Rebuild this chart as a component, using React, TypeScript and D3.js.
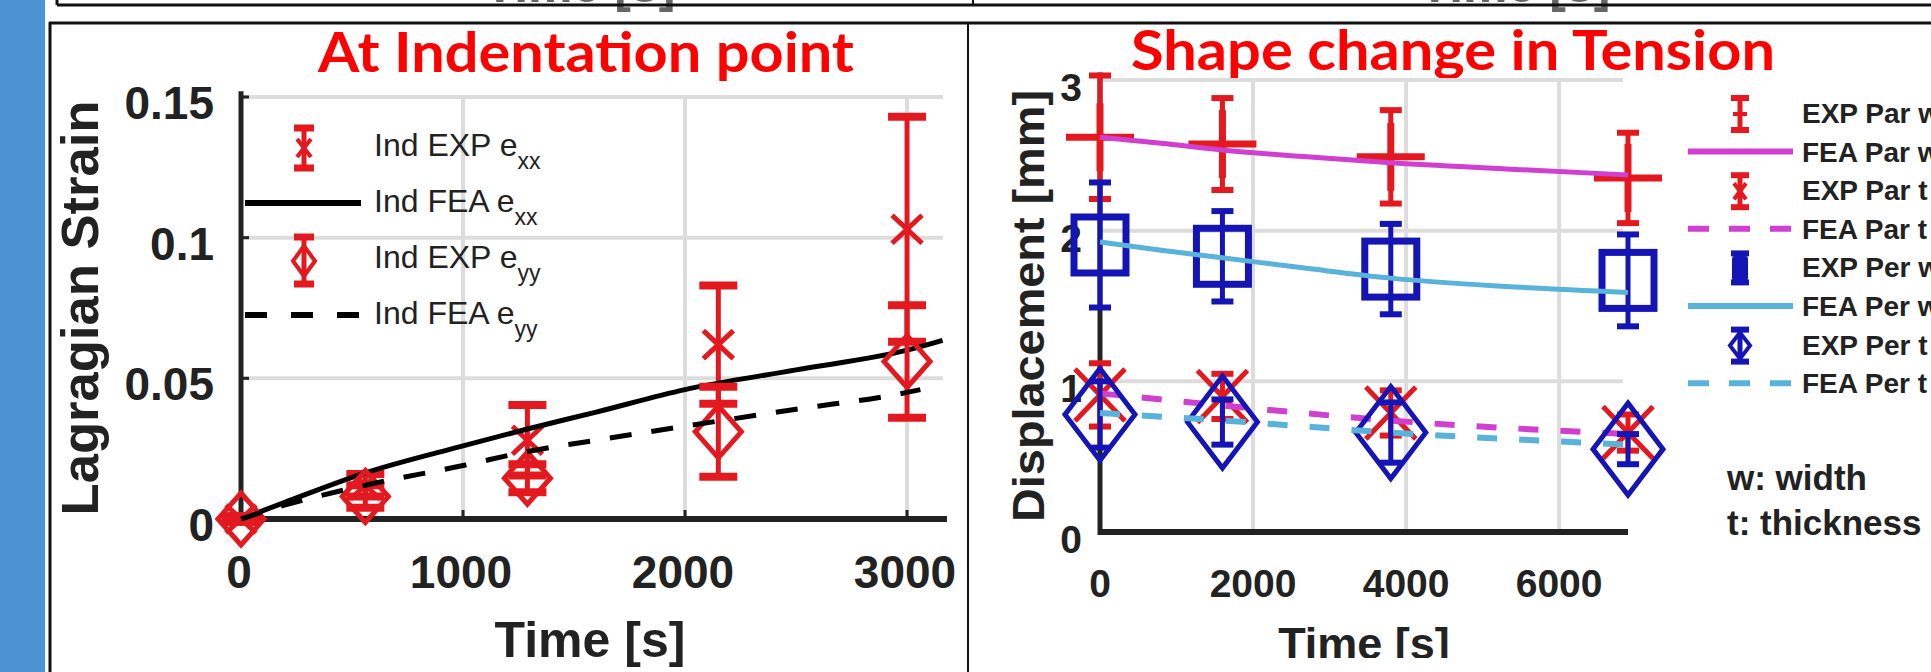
import React from 'react';
import * as d3 from 'd3';

// ---------- Left panel: "At Indentation point" ----------
const indTimes = [0, 560, 1290, 2150, 3000];
const indExpExx = [0, 0.012, 0.028, 0.062, 0.103];
const indExpExxErr = [0.001, 0.004, 0.0125, 0.021, 0.040];
const indExpEyy = [0, 0.008, 0.0145, 0.031, 0.056];
const indExpEyyErr = [0.001, 0.004, 0.005, 0.016, 0.020];
const indFeaExxTimes = [0, 200, 560, 1000, 1290, 1600, 2000, 2500, 3000, 3160];
const indFeaExx = [0, 0.006, 0.0164, 0.026, 0.032, 0.038, 0.046, 0.053, 0.060, 0.0635];
const indFeaEyyTimes = [0, 200, 560, 1000, 1290, 1600, 2000, 2500, 3000, 3060];
const indFeaEyy = [0, 0.005, 0.012, 0.019, 0.024, 0.028, 0.033, 0.039, 0.045, 0.046];
const indXTicks = [0, 1000, 2000, 3000];
const indYTicks = [0, 0.05, 0.1, 0.15];
const indYTickLabels = ['0', '0.05', '0.1', '0.15'];
const indLegend = ['Ind EXP e', 'Ind FEA e', 'Ind EXP e', 'Ind FEA e'];
const indLegendSub = ['xx', 'xx', 'yy', 'yy'];

// ---------- Right panel: "Shape change in Tension" ----------
const tenTimes = [0, 1600, 3800, 6900];
const expParW = [2.62, 2.575, 2.49, 2.35];
const expParWErr = [0.41, 0.305, 0.31, 0.30];
const feaTimes = [0, 800, 1600, 2700, 3800, 5300, 6900];
const feaParW = [2.62, 2.58, 2.535, 2.49, 2.45, 2.41, 2.37];
const expParT = [0.91, 0.90, 0.79, 0.66];
const expParTErr = [0.21, 0.15, 0.15, 0.12];
const feaParT = [0.92, 0.84, 0.74, 0.65];
const expPerW = [1.905, 1.83, 1.745, 1.67];
const expPerWErr = [0.415, 0.30, 0.30, 0.305];
const feaPerW = [1.925, 1.87, 1.82, 1.75, 1.685, 1.63, 1.59];
const expPerT = [0.78, 0.73, 0.66, 0.55];
const expPerTErr = [0.22, 0.15, 0.2, 0.1];
const feaPerT = [0.79, 0.74, 0.66, 0.58];
const tenXTicks = [0, 2000, 4000, 6000];
const tenYTicks = [0, 1, 2, 3];
const tenLegend = ['EXP Par w', 'FEA Par w', 'EXP Par t', 'FEA Par t', 'EXP Per w', 'FEA Per w', 'EXP Per t', 'FEA Per t'];

const RED = '#e3191f';
const TITLE_RED = '#ff0000';
const MAGENTA = '#d13fd1';
const BLUE = '#1515b5';
const LIGHTBLUE = '#58b2da';
const AXIS = '#222222';
const GRID = '#dcdcdc';
const FONT = '"Liberation Sans", Arial, Helvetica, sans-serif';

function ErrBar({ x, y0, y1, cap, color, w, capW }: any) {
  return (
    <g stroke={color} strokeWidth={w} fill="none">
      <line x1={x} x2={x} y1={y0} y2={y1} />
      <line x1={x - cap / 2} x2={x + cap / 2} y1={y0} y2={y0} strokeWidth={capW} />
      <line x1={x - cap / 2} x2={x + cap / 2} y1={y1} y2={y1} strokeWidth={capW} />
    </g>
  );
}

function XMark({ x, y, rx, ry, color, w }: any) {
  return (
    <g stroke={color} strokeWidth={w}>
      <line x1={x - rx} y1={y - ry} x2={x + rx} y2={y + ry} />
      <line x1={x - rx} y1={y + ry} x2={x + rx} y2={y - ry} />
    </g>
  );
}

function Diamond({ x, y, rx, ry, color, w }: any) {
  return (
    <path d={`M${x},${y - ry}L${x + rx},${y}L${x},${y + ry}L${x - rx},${y}Z`} fill="none" stroke={color} strokeWidth={w} />
  );
}

function Plus({ x, y, r, color, w }: any) {
  return (
    <g stroke={color} strokeWidth={w}>
      <line x1={x - r} x2={x + r} y1={y} y2={y} />
      <line x1={x} x2={x} y1={y - r} y2={y + r} />
    </g>
  );
}

function Square({ x, y, rx, ry, color, w }: any) {
  return <rect x={x - rx} y={y - ry} width={2 * rx} height={2 * ry} fill="none" stroke={color} strokeWidth={w} />;
}

function LeftPanel() {
  const x = d3.scaleLinear().domain([0, 3180]).range([241, 947]);
  const y = d3.scaleLinear().domain([0, 0.15]).range([519, 97]);
  const line = d3.line<[number, number]>().x((d) => x(d[0])).y((d) => y(d[1])).curve(d3.curveMonotoneX);
  const exxPts = indFeaExxTimes.map((t, i) => [t, indFeaExx[i]] as [number, number]);
  const eyyPts = indFeaEyyTimes.map((t, i) => [t, indFeaEyy[i]] as [number, number]);
  return (
    <g>
      {/* grid */}
      {indYTicks.slice(1).map((v) => (
        <line key={'gy' + v} x1={x(0)} x2={943} y1={y(v)} y2={y(v)} stroke={GRID} strokeWidth={4} />
      ))}
      {indXTicks.slice(1).map((v) => (
        <line key={'gx' + v} x1={x(v)} x2={x(v)} y1={y(0.15)} y2={y(0)} stroke={GRID} strokeWidth={4} />
      ))}
      {/* axes */}
      <line x1={x(0)} x2={x(0)} y1={y(0.152)} y2={y(0) + 3} stroke={AXIS} strokeWidth={5} />
      <line x1={x(0) - 2} x2={x(3180)} y1={y(0)} y2={y(0)} stroke={AXIS} strokeWidth={6} />
      {indXTicks.slice(1).map((v) => (
        <line key={'tx' + v} x1={x(v)} x2={x(v)} y1={y(0)} y2={y(0) - 9} stroke={AXIS} strokeWidth={3} />
      ))}
      {indYTicks.slice(1).map((v) => (
        <line key={'ty' + v} x1={x(0)} x2={x(0) + 8} y1={y(v)} y2={y(v)} stroke={AXIS} strokeWidth={3} />
      ))}
      {/* tick labels */}
      {indXTicks.map((v) => (
        <text key={'lx' + v} x={x(v) - 2} y={588} textAnchor="middle" fontFamily={FONT} fontWeight="bold" fontSize={46} fill="#222">
          {v}
        </text>
      ))}
      {indYTicks.map((v, i) => (
        <text key={'ly' + v} x={214} y={y(v) + 22} textAnchor="end" fontFamily={FONT} fontWeight="bold" fontSize={46} fill="#222">
          {indYTickLabels[i]}
        </text>
      ))}
      <text x={590} y={657} textAnchor="middle" fontFamily={FONT} fontWeight="bold" fontSize={50} fill="#222">
        Time [s]
      </text>
      <text transform="translate(98,308) rotate(-90)" textAnchor="middle" fontFamily={FONT} fontWeight="bold" fontSize={52} textLength={415} lengthAdjust="spacingAndGlyphs" fill="#222">
        Lagragian Strain
      </text>

      {/* EXP e_xx */}
      {indTimes.map((t, i) => (
        <g key={'exx' + i}>
          <ErrBar x={x(t)} y0={y(indExpExx[i] + indExpExxErr[i])} y1={y(indExpExx[i] - indExpExxErr[i])} cap={38} color={RED} w={5} capW={8} />
          <XMark x={x(t)} y={y(indExpExx[i])} rx={15} ry={14} color={RED} w={5} />
        </g>
      ))}
      {/* FEA e_xx */}
      <path d={line(exxPts) || ''} fill="none" stroke="#000" strokeWidth={5} />
      {/* EXP e_yy */}
      {indTimes.map((t, i) => (
        <g key={'eyy' + i}>
          <ErrBar x={x(t)} y0={y(indExpEyy[i] + indExpEyyErr[i])} y1={y(indExpEyy[i] - indExpEyyErr[i])} cap={38} color={RED} w={5} capW={8} />
          <Diamond x={x(t)} y={y(indExpEyy[i])} rx={23} ry={26} color={RED} w={5} />
        </g>
      ))}
      {/* FEA e_yy */}
      <path d={line(eyyPts) || ''} fill="none" stroke="#000" strokeWidth={5} strokeDasharray="22 20" />

      {/* legend */}
      {indLegend.map((s, i) => {
        const cy = 147 + i * 56;
        return (
          <g key={'leg' + i}>
            {i === 0 && (
              <g>
                <ErrBar x={304} y0={cy - 19} y1={cy + 21} cap={20} color={RED} w={5} capW={7} />
                <XMark x={304} y={cy + 1} rx={7} ry={9} color={RED} w={4} />
              </g>
            )}
            {i === 1 && <line x1={245} x2={361} y1={cy} y2={cy} stroke="#000" strokeWidth={6} />}
            {i === 2 && (
              <g>
                <ErrBar x={304} y0={cy - 22} y1={cy + 25} cap={20} color={RED} w={5} capW={7} />
                <Diamond x={304} y={cy + 2} rx={11} ry={15} color={RED} w={4} />
              </g>
            )}
            {i === 3 && <line x1={245} x2={361} y1={cy} y2={cy} stroke="#000" strokeWidth={6} strokeDasharray="22 24" />}
            <text x={374} y={cy + 9} fontFamily={FONT} fontSize={32} fill="#222">
              {s}
              <tspan dy={13} fontSize={23}>{indLegendSub[i]}</tspan>
            </text>
          </g>
        );
      })}
    </g>
  );
}

function RightPanel() {
  const x = d3.scaleLinear().domain([0, 6900]).range([1100, 1628]);
  const y = d3.scaleLinear().domain([0, 3]).range([532, 80]);
  const line = d3.line<[number, number]>().x((d) => x(d[0])).y((d) => y(d[1])).curve(d3.curveMonotoneX);
  const pts = (ts: number[], vs: number[]) => ts.map((t, i) => [t, vs[i]] as [number, number]);
  return (
    <g>
      <defs>
        <clipPath id="rclip">
          <rect x={969} y={0} width={962} height={658} />
        </clipPath>
      </defs>
      {tenYTicks.slice(1).map((v) => (
        <line key={'gy' + v} x1={x(0)} x2={1623} y1={y(v)} y2={y(v)} stroke={GRID} strokeWidth={4} />
      ))}
      {tenXTicks.slice(1).map((v) => (
        <line key={'gx' + v} x1={x(v)} x2={x(v)} y1={y(3)} y2={y(0)} stroke={GRID} strokeWidth={4} />
      ))}
      <line x1={x(0)} x2={x(0)} y1={y(3.05)} y2={y(0) + 3} stroke={AXIS} strokeWidth={5} />
      <line x1={x(0) - 2} x2={x(6900)} y1={y(0)} y2={y(0)} stroke={AXIS} strokeWidth={6} />
      {tenXTicks.map((v) => (
        <text key={'lx' + v} x={x(v)} y={597} textAnchor="middle" fontFamily={FONT} fontWeight="bold" fontSize={39} fill="#222">
          {v}
        </text>
      ))}
      {tenYTicks.map((v) => (
        <text key={'ly' + v} x={1082} y={y(v) + 21} textAnchor="end" fontFamily={FONT} fontWeight="bold" fontSize={39} fill="#222">
          {v}
        </text>
      ))}
      <text x={1364} y={659} textAnchor="middle" fontFamily={FONT} fontWeight="bold" fontSize={45} fill="#222" clipPath="url(#rclip)">
        Time [s]
      </text>
      <text transform="translate(1044,306) rotate(-90)" textAnchor="middle" fontFamily={FONT} fontWeight="bold" fontSize={44} textLength={432} lengthAdjust="spacingAndGlyphs" fill="#222">
        Displacement [mm]
      </text>

      {/* EXP Par w */}
      {tenTimes.map((t, i) => (
        <g key={'epw' + i}>
          <ErrBar x={x(t)} y0={y(expParW[i] + expParWErr[i])} y1={y(expParW[i] - expParWErr[i])} cap={22} color={RED} w={5} capW={6} />
          <Plus x={x(t)} y={y(expParW[i])} r={34} color={RED} w={7} />
        </g>
      ))}
      <path d={line(pts(feaTimes, feaParW)) || ''} fill="none" stroke={MAGENTA} strokeWidth={5} />
      {/* EXP Par t */}
      {tenTimes.map((t, i) => (
        <g key={'ept' + i}>
          <ErrBar x={x(t)} y0={y(expParT[i] + expParTErr[i])} y1={y(expParT[i] - expParTErr[i])} cap={22} color={RED} w={5} capW={6} />
          <XMark x={x(t)} y={y(expParT[i])} rx={25} ry={26} color={RED} w={5} />
        </g>
      ))}
      <path d={line(pts(tenTimes, feaParT)) || ''} fill="none" stroke={MAGENTA} strokeWidth={6} strokeDasharray="20 22" />
      {/* EXP Per w */}
      {tenTimes.map((t, i) => (
        <g key={'eqw' + i}>
          <ErrBar x={x(t)} y0={y(expPerW[i] + expPerWErr[i])} y1={y(expPerW[i] - expPerWErr[i])} cap={22} color={BLUE} w={5} capW={6} />
          <Square x={x(t)} y={y(expPerW[i])} rx={26} ry={28} color={BLUE} w={7} />
        </g>
      ))}
      <path d={line(pts(feaTimes, feaPerW)) || ''} fill="none" stroke={LIGHTBLUE} strokeWidth={5} />
      {/* EXP Per t */}
      {tenTimes.map((t, i) => (
        <g key={'eqt' + i}>
          <ErrBar x={x(t)} y0={y(expPerT[i] + expPerTErr[i])} y1={y(expPerT[i] - expPerTErr[i])} cap={22} color={BLUE} w={5} capW={6} />
          <Diamond x={x(t)} y={y(expPerT[i])} rx={35} ry={46} color={BLUE} w={5} />
        </g>
      ))}
      <path d={line(pts(tenTimes, feaPerT)) || ''} fill="none" stroke={LIGHTBLUE} strokeWidth={6} strokeDasharray="20 22" />

      {/* legend */}
      {tenLegend.map((s, i) => {
        const cy = 113 + i * 38.6;
        let icon = null;
        if (i === 0)
          icon = (
            <g>
              <ErrBar x={1740} y0={cy - 15} y1={cy + 17} cap={18} color={RED} w={5} capW={6} />
              <Plus x={1740} y={cy + 1} r={7} color={RED} w={4} />
            </g>
          );
        if (i === 2)
          icon = (
            <g>
              <ErrBar x={1740} y0={cy - 15} y1={cy + 17} cap={18} color={RED} w={5} capW={6} />
              <XMark x={1740} y={cy + 1} rx={6} ry={8} color={RED} w={4} />
            </g>
          );
        if (i === 4)
          icon = (
            <g>
              <ErrBar x={1740} y0={cy - 14} y1={cy + 15} cap={18} color={BLUE} w={5} capW={6} />
              <rect x={1732} y={cy - 12} width={16} height={26} rx={4} fill={BLUE} />
            </g>
          );
        if (i === 6)
          icon = (
            <g>
              <ErrBar x={1740} y0={cy - 15} y1={cy + 17} cap={18} color={BLUE} w={5} capW={6} />
              <Diamond x={1740} y={cy + 1} rx={10} ry={13} color={BLUE} w={4} />
            </g>
          );
        if (i === 1) icon = <line x1={1688} x2={1793} y1={cy} y2={cy} stroke={MAGENTA} strokeWidth={6} />;
        if (i === 3) icon = <line x1={1688} x2={1793} y1={cy} y2={cy} stroke={MAGENTA} strokeWidth={6} strokeDasharray="21 20" />;
        if (i === 5) icon = <line x1={1688} x2={1793} y1={cy} y2={cy} stroke={LIGHTBLUE} strokeWidth={6} />;
        if (i === 7) icon = <line x1={1688} x2={1793} y1={cy} y2={cy} stroke={LIGHTBLUE} strokeWidth={6} strokeDasharray="21 20" />;
        return (
          <g key={'rl' + i}>
            {icon}
            <text x={1802} y={cy + 10} fontFamily={FONT} fontWeight="bold" fontSize={28} fill="#222">
              {s}
            </text>
          </g>
        );
      })}
      <text x={1727} y={490} fontFamily={FONT} fontWeight="bold" fontSize={35} fill="#222">w: width</text>
      <text x={1727} y={535} fontFamily={FONT} fontWeight="bold" fontSize={35} fill="#222">t: thickness</text>
    </g>
  );
}

export default function App() {
  return (
    <svg width={1931} height={672} style={{ position: 'absolute', left: 0, top: 0, display: 'block', background: '#fff' }}>
      <rect x={0} y={0} width={1931} height={672} fill="#fff" />
      {/* blue side strip */}
      <rect x={0} y={0} width={45} height={672} fill="#4b93d1" />
      {/* previous row remnants */}
      <text x={580} y={2} textAnchor="middle" fontFamily={FONT} fontWeight="bold" fontSize={50} fill="#666">Time [s]</text>
      <text x={1515} y={2} textAnchor="middle" fontFamily={FONT} fontWeight="bold" fontSize={50} fill="#666">Time [s]</text>
      <line x1={57} x2={1931} y1={5} y2={5} stroke="#111" strokeWidth={3} />
      <line x1={57} x2={57} y1={0} y2={5} stroke="#111" strokeWidth={3} />
      <line x1={973} x2={973} y1={0} y2={5} stroke="#111" strokeWidth={2} />
      {/* panel borders */}
      <line x1={49} x2={1931} y1={23} y2={23} stroke="#111" strokeWidth={3} />
      <line x1={50} x2={50} y1={22} y2={672} stroke="#111" strokeWidth={3} />
      <line x1={968} x2={968} y1={22} y2={672} stroke="#111" strokeWidth={2} />
      {/* titles */}
      <text x={318} y={72} fontFamily="Lato, 'Open Sans', sans-serif" fontWeight="bold" fontSize={55} textLength={536} lengthAdjust="spacingAndGlyphs" fill={TITLE_RED}>
        At Indentation point
      </text>
      <text x={1131} y={70} fontFamily="Lato, 'Open Sans', sans-serif" fontWeight="bold" fontSize={55} textLength={644} lengthAdjust="spacingAndGlyphs" fill={TITLE_RED}>
        Shape change in Tension
      </text>
      <LeftPanel />
      <RightPanel />
    </svg>
  );
}
